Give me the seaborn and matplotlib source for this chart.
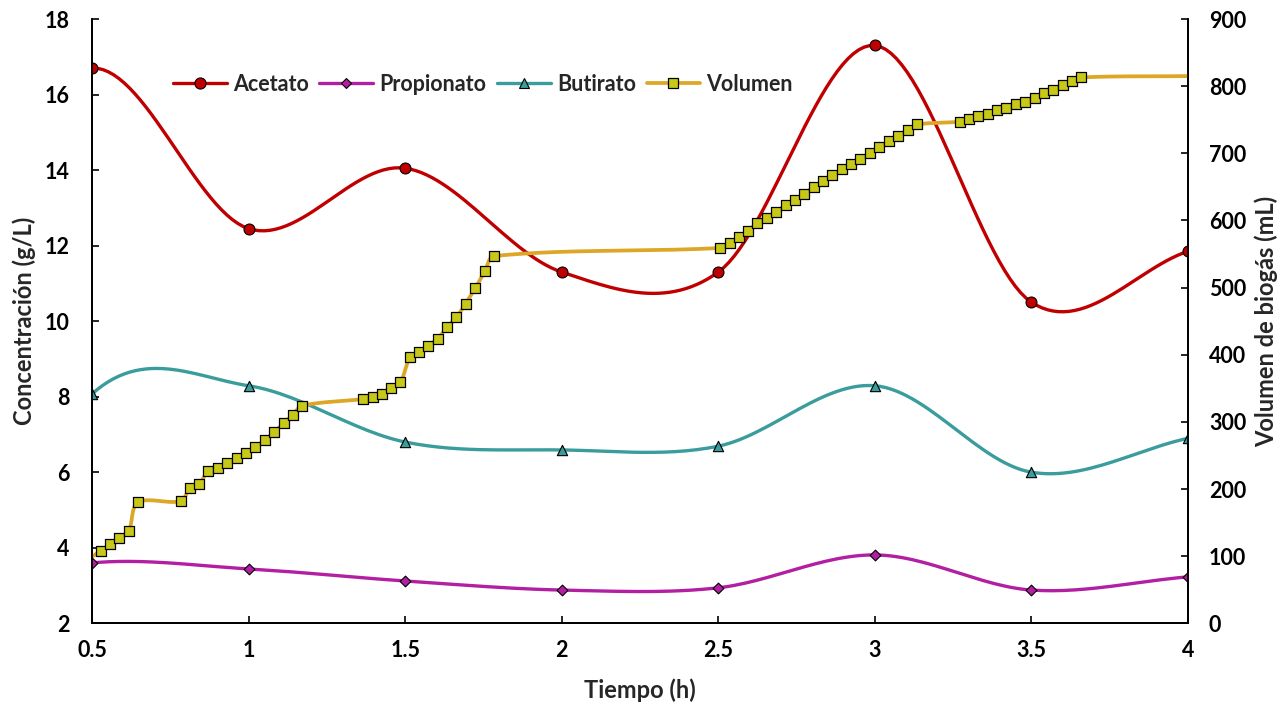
import numpy as np
import pandas as pd
import matplotlib
matplotlib.use("Agg")
import matplotlib.pyplot as plt
from matplotlib import font_manager as fm
from matplotlib.lines import Line2D
import seaborn as sns

# Concentraciones de ácidos grasos volátiles (g/L).
# El punto inicial (t = 0 h) queda fuera del eje, pero da forma al primer tramo.
tiempo = [0.0, 0.5, 1.0, 1.5, 2.0, 2.5, 3.0, 3.5, 4.0]
acetato = [12.0, 16.7, 12.45, 14.05, 11.3, 11.3, 17.3, 10.5, 11.85]
propionato = [2.7, 3.6, 3.44, 3.12, 2.88, 2.94, 3.81, 2.88, 3.23]
butirato = [0.8, 8.07, 8.29, 6.8, 6.59, 6.69, 8.29, 6.0, 6.9]

# Volumen acumulado de biogás (mL); el primer y último punto no llevan marcador
vol_t = [0.5, 0.528, 0.557, 0.587, 0.617, 0.647, 0.783, 0.813, 0.842, 0.871,
         0.901, 0.932, 0.962, 0.991, 1.022, 1.052, 1.082, 1.112, 1.141, 1.171,
         1.366, 1.396, 1.425, 1.455, 1.485, 1.515, 1.545, 1.574, 1.604, 1.634,
         1.664, 1.693, 1.724, 1.754, 1.784, 2.506, 2.536, 2.566, 2.595, 2.625,
         2.655, 2.685, 2.715, 2.745, 2.775, 2.805, 2.835, 2.864, 2.894, 2.924,
         2.954, 2.985, 3.014, 3.045, 3.075, 3.105, 3.135, 3.271, 3.301, 3.330,
         3.360, 3.390, 3.420, 3.450, 3.479, 3.510, 3.540, 3.570, 3.600, 3.629,
         3.659, 4.0]
volumen = [99, 108, 118, 127, 137, 180, 182, 201, 207, 227,
           232, 239, 246, 254, 263, 273, 285, 298, 310, 324,
           334, 337, 341, 351, 359, 396, 404, 413, 424, 441,
           456, 476, 499, 524, 547, 559, 566, 575, 585, 596,
           604, 613, 623, 631, 640, 650, 659, 667, 676, 684,
           692, 701, 709, 718, 726, 735, 743, 747, 751, 755,
           759, 764, 768, 773, 777, 783, 790, 795, 801, 807,
           813, 815]

x_ticks = [0.5, 1, 1.5, 2, 2.5, 3, 3.5, 4]
x_tick_labels = ["0.5", "1", "1.5", "2", "2.5", "3", "3.5", "4"]
y_ticks = [2, 4, 6, 8, 10, 12, 14, 16, 18]
y2_ticks = [0, 100, 200, 300, 400, 500, 600, 700, 800, 900]

XLIM = (0.5, 4)
YLIM = (2, 18)
Y2LIM = (0, 900)

C_ACE = "#C00000"
C_PRO = "#B21FA2"
C_BUT = "#3A9C9C"
C_VOL = "#DDA626"
C_VOL_FACE = "#C8C819"

AX_W_PX, AX_H_PX = 1096.0, 604.0


def smooth(x, y, ylim, metric="x", n=30):
    """Curva Bézier suavizada que pasa por los puntos. Los brazos de control
    se reparten según la longitud de los tramos vecinos ('x': solo en el eje
    horizontal; 'px': longitud en pantalla)."""
    x = np.asarray(x, float)
    y = np.asarray(y, float)
    P = np.column_stack([x, y])
    scale = np.array([AX_W_PX / (XLIM[1] - XLIM[0]),
                      AX_H_PX / (ylim[1] - ylim[0])])
    if metric == "x":
        scale[1] = 0.0
    Pp = np.vstack([P[0], P, P[-1]])
    dist = np.linalg.norm(np.diff(Pp, axis=0) * scale, axis=1)
    t = np.linspace(0, 1, n)[:, None]
    out = []
    for i in range(len(P) - 1):
        p0, p1, p2, p3 = Pp[i], Pp[i + 1], Pp[i + 2], Pp[i + 3]
        d01, d12, d23 = dist[i], dist[i + 1], dist[i + 2]
        f1 = d12 / (d01 + d12) / 3.0 if d01 + d12 > 0 else 0.0
        f2 = d12 / (d12 + d23) / 3.0 if d12 + d23 > 0 else 0.0
        c1 = p1 + (p2 - p0) * f1
        c2 = p2 - (p3 - p1) * f2
        seg = ((1 - t) ** 3) * p1 + 3 * ((1 - t) ** 2) * t * c1 \
            + 3 * (1 - t) * t ** 2 * c2 + t ** 3 * p2
        out.append(seg if i == 0 else seg[1:])
    out = np.vstack(out)
    return pd.DataFrame({"x": out[:, 0], "y": out[:, 1]})


def has_bold(name):
    for f in fm.fontManager.ttflist:
        if f.name == name:
            w = f.weight
            if isinstance(w, str):
                if "bold" in w.lower() or w in ("700", "800", "900"):
                    return True
            elif w >= 700:
                return True
    return False


FAMILY = next((n for n in ["Lato", "Roboto", "Noto Sans", "Liberation Sans"]
               if has_bold(n)), "DejaVu Sans")

sns.set_theme(style="white")
plt.rcParams["font.family"] = [FAMILY, "DejaVu Sans"]
plt.rcParams["font.weight"] = "bold"

TICK_FS = 15.5
TITLE_FS = 17

fig = plt.figure(figsize=(12.88, 7.07), dpi=100)
ax = fig.add_axes([0.0714, 0.1184, 0.8510, 0.8547])
ax2 = ax.twinx()

LW = 2.4
for vals, col in [(acetato, C_ACE), (propionato, C_PRO), (butirato, C_BUT)]:
    d = smooth(tiempo, vals, YLIM, metric="x")
    sns.lineplot(data=d, x="x", y="y", sort=False, estimator=None,
                 color=col, linewidth=LW, ax=ax, zorder=2)

sns.scatterplot(x=tiempo, y=acetato, marker="o", s=62, color=C_ACE,
                edgecolor="black", linewidth=0.8, ax=ax, zorder=3)
sns.scatterplot(x=tiempo, y=propionato, marker="D", s=30, color=C_PRO,
                edgecolor="black", linewidth=0.8, ax=ax, zorder=3)
sns.scatterplot(x=tiempo, y=butirato, marker="^", s=55, color=C_BUT,
                edgecolor="black", linewidth=0.8, ax=ax, zorder=3)

dv = smooth(vol_t, volumen, Y2LIM, metric="px")
sns.lineplot(data=dv, x="x", y="y", sort=False, estimator=None,
             color=C_VOL, linewidth=2.7, ax=ax2, zorder=2)
sns.scatterplot(x=vol_t[1:-1], y=volumen[1:-1], marker="s", s=42,
                color=C_VOL_FACE, edgecolor="black", linewidth=0.9,
                ax=ax2, zorder=3)

ax.set_xlim(*XLIM)
ax.set_ylim(*YLIM)
ax2.set_ylim(*Y2LIM)
ax.set_xticks(x_ticks)
ax.set_xticklabels(x_tick_labels)
ax.set_yticks(y_ticks)
ax2.set_yticks(y2_ticks)

for a in (ax, ax2):
    for side in ("left", "right", "bottom"):
        a.spines[side].set_visible(True)
        a.spines[side].set_color("black")
        a.spines[side].set_linewidth(1.3)
    a.spines["top"].set_visible(False)
    a.grid(False)

ax.tick_params(axis="both", direction="in", length=5, width=1.2,
               colors="black", labelsize=TICK_FS)
ax.tick_params(axis="y", left=True, right=False, pad=16)
ax.tick_params(axis="x", bottom=True, pad=12)
ax2.tick_params(axis="y", direction="in", length=5, width=1.2, right=True,
                colors="black", labelsize=TICK_FS, pad=15)
for lab in ax.get_xticklabels() + ax.get_yticklabels() + ax2.get_yticklabels():
    lab.set_fontweight("bold")

ax.set_xlabel("Tiempo (h)", fontsize=TITLE_FS, fontweight="bold")
ax.set_ylabel("Concentración (g/L)", fontsize=TITLE_FS, fontweight="bold")
ax2.set_ylabel("Volumen de biogás (mL)", fontsize=TITLE_FS, fontweight="bold",
               rotation=90)
ax.xaxis.set_label_coords(0.5, -0.092)
ax.yaxis.set_label_coords(-0.051, 0.5)
ax2.yaxis.set_label_coords(1.061, 0.5)

handles = [
    Line2D([], [], color=C_ACE, lw=LW, marker="o", markersize=8,
           markerfacecolor=C_ACE, markeredgecolor="black", markeredgewidth=0.8),
    Line2D([], [], color=C_PRO, lw=LW, marker="D", markersize=5.5,
           markerfacecolor=C_PRO, markeredgecolor="black", markeredgewidth=0.8),
    Line2D([], [], color=C_BUT, lw=LW, marker="^", markersize=7.5,
           markerfacecolor=C_BUT, markeredgecolor="black", markeredgewidth=0.8),
    Line2D([], [], color=C_VOL, lw=2.7, marker="s", markersize=6.5,
           markerfacecolor=C_VOL_FACE, markeredgecolor="black", markeredgewidth=0.9),
]
labels = ["Acetato", "Propionato", "Butirato", "Volumen"]
leg = ax2.legend(handles, labels, loc="center left", bbox_to_anchor=(0.064, 0.892),
                 ncol=4, frameon=False, borderpad=0, handlelength=2.5,
                 handletextpad=0.28, columnspacing=0.5,
                 prop={"size": TICK_FS, "weight": "bold"})

fig.savefig("out.png", dpi=100)
